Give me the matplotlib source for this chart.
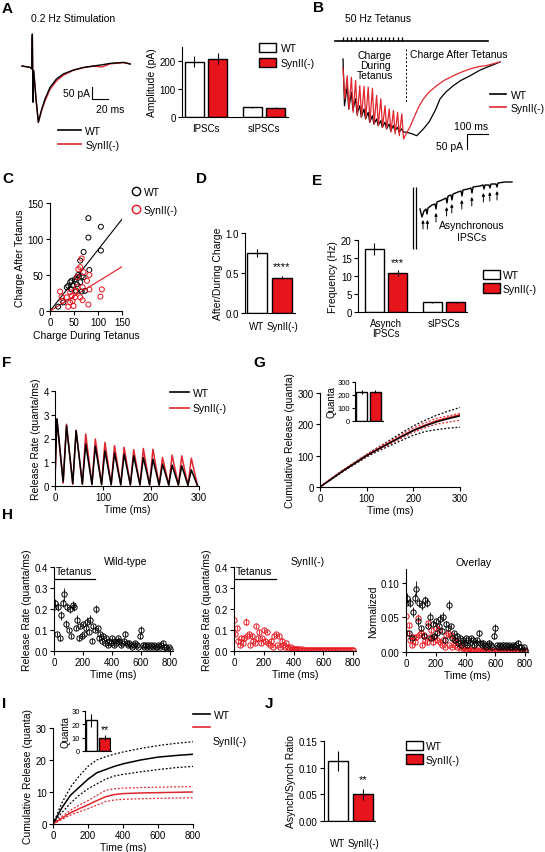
import numpy as np
import matplotlib
matplotlib.use("Agg")
import matplotlib.pyplot as plt
from matplotlib.patches import Patch
from matplotlib.lines import Line2D

plt.rcParams['font.family'] = ['Liberation Sans', 'DejaVu Sans']
plt.rcParams['font.size'] = 7

RED = '#e8141c'
RED_LINE = '#e0262e'

# ---------------- data ----------------
# A: single IPSC (ms, pA)
a_t = [0, 10, 12.1, 12.9, 13.75, 14.6, 17.5, 20.4, 24.6, 28.75, 35, 43, 51.7, 64, 76.7, 89, 100, 110, 127, 135]
a_wt = [0, -5.6, -12, 133, -151, -19, -137, -235, -179, -137, -89, -54, -33, -17, -6, 0, 5, 11, 15, 8]
a_syn = [0, -5.6, -12, 120, -140, -19, -140, -232, -185, -145, -97, -62, -38, -18, -7, -1, -4, 9, 14, 9]
amp_groups = ['IPSCs', 'sIPSCs']
amp_wt = [197, 35]
amp_wt_err = [20, 2]
amp_syn = [208, 33]
amp_syn_err = [20, 1]

# B: 50 Hz tetanus traces (ms, pA)
stim_times = [0, 20, 40, 60, 80, 100, 120, 140, 160, 180, 200, 220, 240, 260, 280]
b_wt_peak = [10, -79, -101, -123, -146, -157, -168, -179, -190, -196, -201, -207, -212, -218, -223]
b_wt_trough = [-146, -157, -160, -173, -184, -190, -201, -207, -212, -218, -223, -229, -229, -234, -234]
b_syn_peak = [-20, -46, -51, -62, -79, -81, -84, -88, -112, -123, -146, -157, -162, -168, -173]
b_syn_trough = [-123, -157, -168, -179, -184, -190, -201, -207, -212, -218, -223, -234, -240, -246, -257]
b_wt_after_t = [300, 330, 351, 383, 410, 440, 462, 490, 525, 560, 605, 650, 683, 720, 747]
b_wt_after = [-234, -240, -246, -223, -200, -160, -123, -100, -79, -62, -46, -28, -18, -8, 0]
b_syn_after_t = [300, 320, 335, 360, 383, 410, 446, 480, 525, 560, 605, 650, 683, 720, 747]
b_syn_after = [-240, -215, -190, -150, -123, -100, -79, -62, -46, -35, -23, -15, -12, -5, 0]

# C: charge after vs during tetanus
c_wt_x = [80, 106, 80, 106, 70, 63, 82, 59, 52, 45, 38, 49, 63, 66, 56, 45, 54, 66, 28, 17, 73, 42, 35, 56, 70]
c_wt_y = [129, 117, 102, 84, 82, 70, 57, 50, 44, 42, 35, 35, 40, 48, 37, 30, 28, 27, 12, 6, 28, 40, 33, 47, 47]
c_syn_x = [66, 63, 82, 57, 77, 56, 68, 82, 108, 105, 21, 24, 35, 45, 52, 42, 49, 38, 47, 63, 80, 68, 26, 59, 70, 52, 42]
c_syn_y = [73, 61, 50, 47, 42, 33, 33, 30, 30, 20, 27, 20, 19, 21, 19, 12, 7, 6, 14, 19, 9, 15, 14, 58, 54, 28, 26]
c_wt_slope = 0.85
c_syn_slope = 0.41

# D: after/during charge ratio
d_labels = ['WT', 'SynII(-)']
d_vals = [0.75, 0.44]
d_err = [0.05, 0.02]

# E: frequency
e_groups = ['Asynch\nIPSCs', 'sIPSCs']
e_wt = [17.6, 2.7]
e_wt_err = [1.7, 0.1]
e_syn = [10.9, 2.7]
e_syn_err = [0.9, 0.1]
async_t = [35, 45, 55, 65, 70, 75, 95, 110, 115, 120, 145, 165, 170, 175, 190, 195, 200, 225, 240, 245, 250,
           275, 290, 295, 300, 335, 350, 355, 360, 380, 385, 390, 415, 420, 425, 460, 495]
async_i = [-135, -175, -145, -135, -160, -130, -115, -110, -135, -100, -90, -80, -105, -70, -65, -90, -60, -50,
           -45, -70, -40, -35, -30, -55, -25, -20, -15, -35, -15, -15, -30, -10, -10, -25, -5, 0, 0]
async_artifact_t = [0, 17]
arrow_t = [50, 72, 115, 168, 194, 244, 294, 352, 384, 420]
arrow_tip = [-190, -190, -155, -125, -110, -90, -75, -55, -50, -45]

# F: release rate, peaks and troughs (quanta/ms)
f_peak_t = [4, 24, 44, 64, 84, 104, 124, 144, 164, 184, 204, 224, 244, 264, 284]
f_trough_t = [17, 37, 57, 77, 97, 117, 137, 157, 177, 197, 217, 237, 257, 277, 297]
f_wt_peak = [2.83, 2.54, 2.33, 1.77, 1.67, 1.48, 1.39, 1.34, 1.27, 1.2, 1.13, 0.92, 0.88, 0.85, 0.68]
f_syn_peak = [2.8, 2.6, 2.35, 2.19, 1.98, 1.84, 1.7, 1.63, 1.53, 1.58, 1.55, 1.2, 1.3, 1.27, 1.17]
f_wt_trough = [0.18, 0.1, 0.08, 0.07, 0.06, 0.06, 0.05, 0.05, 0.05, 0.05, 0.04, 0.04, 0.04, 0.03, 0.0]
f_syn_trough = [0.12, 0.08, 0.07, 0.06, 0.06, 0.05, 0.05, 0.05, 0.05, 0.05, 0.04, 0.04, 0.04, 0.03, 0.0]

# G: cumulative release during tetanus
g_t = [0, 25, 50, 75, 100, 125, 150, 175, 200, 225, 250, 275, 300]
g_wt = [0, 26, 52, 76, 100, 121, 141, 161, 180, 195, 208, 218, 227]
g_wt_hi = [0, 27, 54, 79, 104, 127, 150, 173, 195, 213, 229, 242, 254]
g_wt_lo = [0, 25, 50, 73, 96, 115, 132, 149, 165, 177, 183, 188, 191]
g_syn = [0, 27, 53, 77, 101, 122, 142, 162, 181, 197, 211, 221, 230]
g_syn_hi = [0, 28, 55, 79, 104, 126, 147, 168, 188, 205, 219, 227, 235]
g_syn_lo = [0, 26, 51, 75, 98, 118, 137, 156, 174, 189, 201, 207, 213]
g_quanta = [220, 225]
g_quanta_err = [15, 10]

# H: asynchronous release rate (10 ms bins)
h_t = list(range(0, 810, 10))
h_wt = [0.21, 0.23, 0.08, 0.21, 0.06, 0.17, 0.23, 0.27, 0.13, 0.21, 0.10, 0.20, 0.07, 0.22, 0.21, 0.11,
        0.15, 0.06, 0.12, 0.07, 0.13, 0.08, 0.11, 0.14, 0.09, 0.15, 0.05, 0.12, 0.10, 0.20, 0.11, 0.06,
        0.08, 0.05, 0.07, 0.04, 0.06, 0.03, 0.05, 0.04, 0.06, 0.03, 0.05, 0.04, 0.06, 0.05, 0.03, 0.04,
        0.05, 0.08, 0.04, 0.03, 0.04, 0.03, 0.02, 0.03, 0.04, 0.03, 0.02, 0.07, 0.10, 0.03, 0.02, 0.03,
        0.02, 0.03, 0.02, 0.03, 0.02, 0.03, 0.02, 0.02, 0.03, 0.02, 0.03, 0.04, 0.02, 0.02, 0.01, 0.02, 0.01]
h_wt_err = [0.02, 0.02, 0.01, 0.02, 0.01, 0.02, 0.02, 0.03, 0.02, 0.02, 0.01, 0.02, 0.01, 0.02, 0.02, 0.01,
            0.02, 0.01, 0.01, 0.01, 0.01, 0.01, 0.01, 0.02, 0.01, 0.02, 0.01, 0.01, 0.01, 0.02, 0.01, 0.01,
            0.01, 0.01, 0.01, 0.01, 0.01, 0.01, 0.01, 0.01, 0.01, 0.01, 0.01, 0.01, 0.01, 0.01, 0.01, 0.01,
            0.01, 0.015, 0.01, 0.01, 0.01, 0.01, 0.005, 0.01, 0.01, 0.01, 0.005, 0.015, 0.02, 0.01, 0.005, 0.01,
            0.005, 0.01, 0.005, 0.01, 0.005, 0.01, 0.005, 0.005, 0.01, 0.005, 0.01, 0.01, 0.005, 0.005, 0.005, 0.005, 0.005]
h_syn = [0.15, 0.08, 0.11, 0.05, 0.03, 0.06, 0.04, 0.06, 0.14, 0.07, 0.08, 0.03, 0.07, 0.05, 0.04, 0.12,
         0.06, 0.09, 0.04, 0.06, 0.10, 0.05, 0.09, 0.04, 0.03, 0.05, 0.02, 0.07, 0.08, 0.03, 0.07, 0.02,
         0.05, 0.03, 0.02, 0.04, 0.02, 0.01, 0.02, 0.01, 0.01, 0.01, 0.008, 0.01, 0.008, 0.007, 0.008, 0.006,
         0.007, 0.006, 0.007, 0.006, 0.005, 0.006, 0.005, 0.006, 0.005, 0.005, 0.006, 0.005, 0.005, 0.004, 0.005,
         0.005, 0.004, 0.005, 0.004, 0.004, 0.005, 0.004, 0.004, 0.004, 0.003, 0.004, 0.004, 0.003, 0.004, 0.003,
         0.003, 0.004, 0.003]
h_syn_err = [0.02, 0.01, 0.01, 0.01, 0.01, 0.01, 0.01, 0.01, 0.015, 0.01, 0.01, 0.01, 0.01, 0.01, 0.01, 0.01,
             0.01, 0.01, 0.01, 0.01, 0.01, 0.01, 0.01, 0.01, 0.005, 0.01, 0.005, 0.01, 0.01, 0.005, 0.01, 0.005,
             0.01, 0.005, 0.005, 0.005] + [0.003] * 45
h_wt_norm = 0.34
h_syn_norm = 0.35
tetanus_end = 280

# I: cumulative asynchronous release
i_t = [0, 50, 100, 150, 200, 250, 300, 350, 400, 500, 600, 700, 800]
i_wt = [0, 5, 9, 11.5, 14, 16, 17, 18, 18.8, 20, 20.9, 21.4, 21.8]
i_wt_hi = [0, 6.5, 11.5, 15, 18, 20, 21, 21.8, 22.5, 23.6, 24.5, 25.2, 25.7]
i_wt_lo = [0, 3.5, 6.5, 9, 11, 12.5, 14, 15, 15.5, 16.3, 17, 17.6, 18]
i_syn = [0, 1.8, 3.5, 4.8, 6, 7.3, 8.5, 9.2, 9.5, 9.7, 9.8, 9.9, 10]
i_syn_hi = [0, 2.3, 4.3, 5.9, 7.3, 8.9, 10.5, 11, 11.2, 11.4, 11.5, 11.6, 11.7]
i_syn_lo = [0, 1.4, 2.8, 3.8, 4.8, 5.9, 7, 7.5, 7.7, 7.9, 8.0, 8.1, 8.2]
i_quanta = [23, 10]
i_quanta_err = [5, 2]

# J: asynch/synch ratio
j_vals = [0.112, 0.050]
j_err = [0.019, 0.010]

# ---------------- layout helpers ----------------
W, H = 545, 853
fig = plt.figure(figsize=(W / 100, H / 100), dpi=100)
fig.patch.set_facecolor('white')


def add_ax(x0, y0, x1, y1):
    return fig.add_axes([x0 / W, 1 - y1 / H, (x1 - x0) / W, (y1 - y0) / H])


def ftext(x, y, s, **kw):
    fig.text(x / W, 1 - y / H, s, **kw)


def style(ax, xticks=True):
    for s in ['top', 'right']:
        ax.spines[s].set_visible(False)
    for s in ['left', 'bottom']:
        ax.spines[s].set_linewidth(0.8)
    ax.tick_params(direction='out', length=3, width=0.8, labelsize=7, pad=1.5)
    if not xticks:
        ax.tick_params(axis='x', length=0, pad=4)


def fig_legend(handles, labels, x, y, **kw):
    fig.legend(handles, labels, loc='upper left', bbox_to_anchor=(x / W, 1 - y / H),
               frameon=False, fontsize=7.5, borderaxespad=0, borderpad=0, **kw)


box_handles = [Patch(facecolor='white', edgecolor='black', lw=1), Patch(facecolor=RED, edgecolor='black', lw=1)]
line_handles = [Line2D([], [], color='black', lw=1.2), Line2D([], [], color=RED_LINE, lw=1.2)]
bar_kw = dict(edgecolor='black', linewidth=1, error_kw=dict(ecolor='black', elinewidth=0.8, capsize=0))

# panel letters
for lab, x, y in [('A', 2, 2), ('B', 313, 1), ('C', 2, 172), ('D', 196, 172), ('E', 312, 174),
                  ('F', 2, 356), ('G', 253, 356), ('H', 2, 508), ('I', 2, 697), ('J', 265, 697)]:
    ftext(x, y, lab, fontsize=11, fontweight='bold', va='top')

# ---------------- A ----------------
ax = add_ax(20, 30, 135, 128)
ax.plot(a_t, a_syn, color=RED_LINE, lw=1)
ax.plot(a_t, a_wt, color='black', lw=1)
ax.set_xlim(-2.5, 141)
ax.set_ylim(-254, 154)
ax.axis('off')
ax.plot([87.5, 87.5, 107.5], [-87.5, -137.5, -137.5], color='black', lw=0.8)
ax.text(85, -112, '50 pA', ha='right', va='center', fontsize=7.5)
ax.text(110, -180, '20 ms', ha='center', va='center', fontsize=7.5)
ftext(73, 19, '0.2 Hz Stimulation', ha='center', va='center', fontsize=7.5)
fig_legend(line_handles, ['WT', 'SynII(-)'], 58, 127, handlelength=2.2, labelspacing=0.35, handletextpad=0.4)

ax = add_ax(182, 48, 288, 118)
xg = np.arange(len(amp_groups))
ax.bar(xg - 0.2, amp_wt, 0.33, yerr=amp_wt_err, color='white', **bar_kw)
ax.bar(xg + 0.2, amp_syn, 0.33, yerr=amp_syn_err, color=RED, **bar_kw)
ax.set_xlim(-0.414, 1.414)
ax.set_ylim(0, 250)
ax.set_yticks([0, 100, 200])
ax.set_xticks(xg)
ax.set_xticklabels(amp_groups, fontsize=7.5)
ax.set_ylabel('Amplitude (pA)', fontsize=7.5, labelpad=2)
style(ax, xticks=False)
fig_legend(box_handles, ['WT', 'SynII(-)'], 259, 44, handlelength=1.6, handleheight=1.0,
           labelspacing=0.45, handletextpad=0.5)

# ---------------- B ----------------
ax = add_ax(330, 30, 510, 155)
t_wt, v_wt, t_syn, v_syn = [], [], [], []
for k, s in enumerate(stim_times):
    t_wt += [s, s + 7]
    v_wt += [b_wt_peak[k], b_wt_trough[k]]
    t_syn += [s, s + 8]
    v_syn += [b_syn_peak[k], b_syn_trough[k]]
t_wt += b_wt_after_t
v_wt += b_wt_after
t_syn += b_syn_after_t
v_syn += b_syn_after
ax.plot(t_wt, v_wt, color='black', lw=0.9)
ax.plot(t_syn, v_syn, color=RED_LINE, lw=0.9)
ax.set_xlim(-62, 795)
ax.set_ylim(-307, 110)
ax.axis('off')
ax.plot([-38, 690], [70, 70], color='black', lw=1.2, clip_on=False)
ax.vlines(stim_times, 70, 83, color='black', lw=0.9)
ax.plot([300, 300], [43, -133], color='black', lw=0.7, ls=(0, (2, 2)))
ax.plot([590, 590, 690], [-290, -240, -240], color='black', lw=0.8)
ax.text(690, -215, '100 ms', ha='right', va='center', fontsize=7.5)
ax.text(570, -280, '50 pA', ha='right', va='center', fontsize=7.5)
ax.text(152, -10, 'Charge\nDuring\nTetanus', ha='center', va='center', fontsize=7.5, linespacing=1.05)
ax.text(550, 27, 'Charge After Tetanus', ha='center', va='center', fontsize=7.5)
ftext(378, 19, '50 Hz Tetanus', ha='center', va='center', fontsize=7.5)
fig_legend(line_handles, ['WT', 'SynII(-)'], 490, 91, handlelength=1.5, labelspacing=0.3, handletextpad=0.5)

# ---------------- C ----------------
ax = add_ax(50, 204, 122, 312)
ax.scatter(c_wt_x, c_wt_y, s=13, facecolors='none', edgecolors='black', linewidths=0.7, zorder=3)
ax.scatter(c_syn_x, c_syn_y, s=13, facecolors='none', edgecolors=RED, linewidths=0.7, zorder=3)
xs = np.array([0, 150])
ax.plot(xs, c_wt_slope * xs, color='black', lw=0.8)
ax.plot(xs, c_syn_slope * xs, color=RED, lw=0.8)
ax.set_xlim(0, 150)
ax.set_ylim(0, 150)
ax.set_xticks([0, 50, 100, 150])
ax.set_yticks([0, 50, 100, 150])
ax.set_xlabel('Charge During Tetanus', fontsize=7.5, labelpad=2)
ax.set_ylabel('Charge After Tetanus', fontsize=7.5, labelpad=2)
style(ax)
circ = [Line2D([], [], marker='o', ls='none', mfc='none', mec='black', ms=6, mew=1),
        Line2D([], [], marker='o', ls='none', mfc='none', mec=RED, ms=6, mew=1)]
fig_legend(circ, ['WT', 'SynII(-)'], 132, 188, handlelength=0.8, labelspacing=0.75, handletextpad=0.3)

# ---------------- D ----------------
ax = add_ax(245, 234, 295, 314)
xd = np.arange(len(d_labels))
ax.bar(xd, d_vals, 0.8, yerr=d_err, color=['white', RED], **bar_kw)
ax.text(1, d_vals[1] + 0.09, '****', ha='center', va='bottom', fontsize=8)
ax.set_xlim(-0.48, 1.52)
ax.set_ylim(0, 1.0)
ax.set_yticks([0, 0.5, 1.0])
ax.set_yticklabels(['0.0', '0.5', '1.0'])
ax.set_xticks(xd)
ax.set_xticklabels(d_labels, fontsize=7.5)
ax.set_ylabel('After/During Charge', fontsize=7.5, labelpad=2)
style(ax, xticks=False)
ax.tick_params(axis='x', pad=6)

# ---------------- E ----------------
ax = add_ax(358, 241, 467, 313)
xg = np.arange(len(e_groups))
ax.bar(xg - 0.2, e_wt, 0.33, yerr=e_wt_err, color='white', **bar_kw)
ax.bar(xg + 0.2, e_syn, 0.33, yerr=e_syn_err, color=RED, **bar_kw)
ax.text(0.2, e_syn[0] + 1.5, '***', ha='center', va='bottom', fontsize=8)
ax.set_xlim(-0.483, 1.397)
ax.set_ylim(0, 20)
ax.set_yticks([0, 5, 10, 15, 20])
ax.set_xticks(xg)
ax.set_xticklabels(e_groups, fontsize=7.5, linespacing=1.1)
ax.set_ylabel('Frequency (Hz)', fontsize=7.5, labelpad=2)
style(ax, xticks=False)
fig_legend(box_handles, ['WT', 'SynII(-)'], 483, 271, handlelength=1.6, handleheight=1.0,
           labelspacing=0.3, handletextpad=0.3)

ax = add_ax(405, 180, 520, 255)
ax.plot(async_t, async_i, color='black', lw=1.0)
ax.vlines(async_artifact_t, -335, -25, color='black', lw=0.9)
for t, y in zip(arrow_t, arrow_tip):
    ax.annotate('', xy=(t, y), xytext=(t, y - 45),
                arrowprops=dict(arrowstyle='-|>', color='black', lw=0.7, mutation_scale=4,
                                shrinkA=0, shrinkB=0))
ax.set_xlim(-40, 535)
ax.set_ylim(-360, 15)
ax.axis('off')
ftext(472, 232, 'Asynchronous\nIPSCs', ha='center', va='center', fontsize=7.5, linespacing=1.2)

# ---------------- F ----------------
ax = add_ax(55, 392, 199, 487)
for peaks, troughs, col in [(f_syn_peak, f_syn_trough, RED_LINE), (f_wt_peak, f_wt_trough, 'black')]:
    tt = [0]
    vv = [0.3]
    for k in range(len(f_peak_t)):
        tt += [f_peak_t[k], f_trough_t[k]]
        vv += [peaks[k], troughs[k]]
    ax.plot(tt, vv, color=col, lw=1.1)
ax.set_xlim(0, 300)
ax.set_ylim(0, 4)
ax.set_xticks([0, 100, 200, 300])
ax.set_yticks([0, 1, 2, 3, 4])
ax.set_xlabel('Time (ms)', fontsize=7.5, labelpad=1)
ax.set_ylabel('Release Rate (quanta/ms)', fontsize=7.5, labelpad=2)
style(ax)
fig_legend(line_handles, ['WT', 'SynII(-)'], 170, 389, handlelength=1.8, labelspacing=0.5, handletextpad=0.4)

# ---------------- G ----------------
ax = add_ax(320, 394, 460, 488)
ax.plot(g_t, g_wt_hi, color='black', lw=0.9, ls=(0, (1.5, 1.5)))
ax.plot(g_t, g_wt_lo, color='black', lw=0.9, ls=(0, (1.5, 1.5)))
ax.plot(g_t, g_syn_hi, color=RED_LINE, lw=0.9, ls=(0, (1.5, 1.5)))
ax.plot(g_t, g_syn_lo, color=RED_LINE, lw=0.9, ls=(0, (1.5, 1.5)))
ax.plot(g_t, g_syn, color=RED_LINE, lw=1.3)
ax.plot(g_t, g_wt, color='black', lw=1.1)
ax.set_xlim(0, 300)
ax.set_ylim(0, 300)
ax.set_xticks([0, 100, 200, 300])
ax.set_yticks([0, 100, 200, 300])
ax.set_xlabel('Time (ms)', fontsize=7.5, labelpad=1)
ax.set_ylabel('Cumulative Release (quanta)', fontsize=7.5, labelpad=2)
style(ax)

ax = add_ax(355, 383, 383, 422)
ax.bar([0, 1], g_quanta, 0.8, yerr=g_quanta_err, color=['white', RED], **bar_kw)
ax.set_xlim(-0.48, 1.55)
ax.set_ylim(0, 300)
ax.set_yticks([0, 100, 200, 300])
ax.set_xticks([])
ax.set_ylabel('Quanta', fontsize=7, labelpad=1)
style(ax)
ax.tick_params(labelsize=5.5, length=2)

# ---------------- H ----------------
err_kw = dict(fmt='o', ms=3.8, mfc='none', mew=0.7, elinewidth=0.6, capsize=0)
for (x0, x1, title, vals, errs, col) in [(54, 173, 'Wild-type', h_wt, h_wt_err, 'black'),
                                         (234, 356, 'SynII(-)', h_syn, h_syn_err, RED)]:
    ax = add_ax(x0, 568, x1, 652)
    ax.errorbar(h_t, vals, yerr=errs, color=col, mec=col, **err_kw)
    ax.plot([0, tetanus_end], [0.345, 0.345], color='black', lw=0.9)
    ax.text(12, 0.355, 'Tetanus', fontsize=7.5, va='bottom')
    ax.set_xlim(0, 820)
    ax.set_ylim(0, 0.4)
    ax.set_xticks([0, 200, 400, 600, 800])
    ax.set_yticks([0, 0.1, 0.2, 0.3, 0.4])
    ax.set_yticklabels(['0.0', '0.1', '0.2', '0.3', '0.4'])
    ax.set_xlabel('Time (ms)', fontsize=7.5, labelpad=1)
    ax.set_ylabel('Release Rate (quanta/ms)', fontsize=7.5, labelpad=2)
    ax.set_title(title, fontsize=7.5, pad=2, x=0.6)
    style(ax)

ax = add_ax(406, 570, 528, 653)
ax.errorbar(h_t, np.array(h_syn) * h_syn_norm, yerr=np.array(h_syn_err) * h_syn_norm,
            color=RED, mec=RED, **err_kw)
ax.errorbar(h_t, np.array(h_wt) * h_wt_norm, yerr=np.array(h_wt_err) * h_wt_norm,
            color='black', mec='black', **err_kw)
ax.set_xlim(0, 820)
ax.set_ylim(0, 0.12)
ax.set_xticks([0, 200, 400, 600, 800])
ax.set_yticks([0, 0.05, 0.10])
ax.set_yticklabels(['0.00', '0.05', '0.10'])
ax.set_xlabel('Time (ms)', fontsize=7.5, labelpad=1)
ax.set_ylabel('Normalized', fontsize=7.5, labelpad=2)
ax.set_title('Overlay', fontsize=7.5, pad=3, x=0.55)
style(ax)

# ---------------- I ----------------
ax = add_ax(53, 729, 193, 825)
for ys in [i_wt_hi, i_wt_lo]:
    ax.plot(i_t, ys, color='black', lw=0.9, ls=(0, (1.5, 1.5)))
for ys in [i_syn_hi, i_syn_lo]:
    ax.plot(i_t, ys, color=RED_LINE, lw=0.9, ls=(0, (1.5, 1.5)))
ax.plot(i_t, i_wt, color='black', lw=1.1)
ax.plot(i_t, i_syn, color=RED_LINE, lw=1.1)
ax.set_xlim(0, 800)
ax.set_ylim(0, 30)
ax.set_xticks([0, 200, 400, 600, 800])
ax.set_yticks([0, 10, 20, 30])
ax.set_xlabel('Time (ms)', fontsize=7.5, labelpad=1)
ax.set_ylabel('Cumulative Release (quanta)', fontsize=7.5, labelpad=2)
style(ax)
fig_legend(line_handles[:1], ['WT'], 193, 711, handlelength=1.6, handletextpad=0.4)
fig.add_artist(Line2D([193 / W, 210 / W], [1 - 728 / H] * 2, color=RED_LINE, lw=1.2))
ftext(213, 742, 'SynII(-)', va='center', fontsize=7.5)

ax = add_ax(85, 712, 111, 752)
ax.bar([0, 1], i_quanta, 0.8, yerr=i_quanta_err, color=['white', RED], **bar_kw)
ax.text(1, i_quanta[1] + 3, '**', ha='center', va='bottom', fontsize=7.5)
ax.set_xlim(-0.44, 1.45)
ax.set_ylim(0, 30)
ax.set_yticks([0, 10, 20, 30])
ax.set_xticks([])
ax.set_ylabel('Quanta', fontsize=7, labelpad=1)
style(ax)
ax.tick_params(labelsize=5.5, length=2)

# ---------------- J ----------------
ax = add_ax(324, 742, 375, 822)
ax.bar([0, 1], j_vals, 0.8, yerr=j_err, color=['white', RED], **bar_kw)
ax.text(1, j_vals[1] + 0.02, '**', ha='center', va='bottom', fontsize=8)
ax.set_xlim(-0.56, 1.48)
ax.set_ylim(0, 0.15)
ax.set_yticks([0, 0.05, 0.10, 0.15])
ax.set_yticklabels(['0.00', '0.05', '0.10', '0.15'])
ax.set_xticks([0, 1])
ax.set_xticklabels(d_labels, fontsize=7.5)
ax.set_ylabel('Asynch/Synch Ratio', fontsize=7.5, labelpad=2)
style(ax, xticks=False)
ax.tick_params(axis='x', pad=12)
fig_legend(box_handles, ['WT', 'SynII(-)'], 406, 742, handlelength=1.6, handleheight=1.0,
           labelspacing=0.3, handletextpad=0.3)

fig.savefig('out.png', dpi=100, facecolor='white')
